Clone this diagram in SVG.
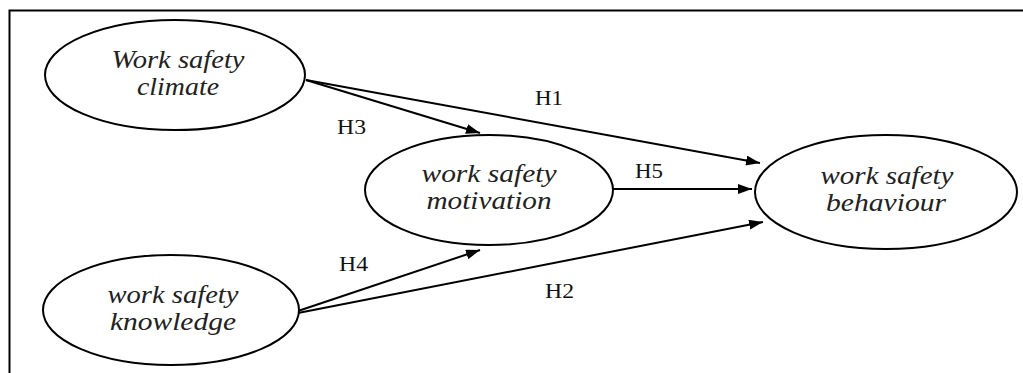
<svg xmlns="http://www.w3.org/2000/svg" width="1023" height="373" viewBox="0 0 1023 373">
<defs>
<marker id="ah" viewBox="0 0 14 10" refX="14" refY="5" markerWidth="14" markerHeight="10" markerUnits="userSpaceOnUse" orient="auto">
<path d="M0,0 L14,5 L0,10 z" fill="#000"/>
</marker>
<style>
.node ellipse{fill:#fff;stroke:#000;stroke-width:2}
.node text{font-style:italic;font-size:25px;fill:#222;text-anchor:middle}
.lbl{font-size:20px;fill:#111}
.conn line{stroke:#000;stroke-width:2;marker-end:url(#ah)}
</style>
</defs>
<rect width="1023" height="373" fill="#fff"/>
<path d="M9.5,373 V10.5 H1023" fill="none" stroke="#000" stroke-width="2"/>
<g class="conn" id="connectors">
<line x1="306" y1="80" x2="760" y2="163"/>
<line x1="306" y1="80" x2="480" y2="133"/>
<line x1="613" y1="189" x2="752" y2="189"/>
<line x1="298" y1="311" x2="480" y2="250"/>
<line x1="298" y1="313" x2="763" y2="222"/>
</g>
<g id="labels" font-family="Liberation Serif, serif">
<text class="lbl" x="535" y="105" textLength="28" lengthAdjust="spacingAndGlyphs">H1</text>
<text class="lbl" x="337" y="134" textLength="29" lengthAdjust="spacingAndGlyphs">H3</text>
<text class="lbl" x="635" y="178" textLength="28" lengthAdjust="spacingAndGlyphs">H5</text>
<text class="lbl" x="339" y="271" textLength="29" lengthAdjust="spacingAndGlyphs">H4</text>
<text class="lbl" x="545" y="298" textLength="29" lengthAdjust="spacingAndGlyphs">H2</text>
</g>
<g class="node" id="climate" font-family="Liberation Serif, serif">
<ellipse cx="175" cy="75" rx="130" ry="55"/>
<text x="178" y="68" textLength="133" lengthAdjust="spacingAndGlyphs">Work safety</text>
<text x="178" y="95" textLength="82" lengthAdjust="spacingAndGlyphs">climate</text>
</g>
<g class="node" id="knowledge" font-family="Liberation Serif, serif">
<ellipse cx="171" cy="310" rx="128" ry="55"/>
<text x="173" y="303" textLength="131" lengthAdjust="spacingAndGlyphs">work safety</text>
<text x="173" y="330" textLength="126" lengthAdjust="spacingAndGlyphs">knowledge</text>
</g>
<g class="node" id="motivation" font-family="Liberation Serif, serif">
<ellipse cx="489" cy="190" rx="124" ry="55"/>
<text x="489" y="182" textLength="135" lengthAdjust="spacingAndGlyphs">work safety</text>
<text x="489" y="209" textLength="125" lengthAdjust="spacingAndGlyphs">motivation</text>
</g>
<g class="node" id="behaviour" font-family="Liberation Serif, serif">
<ellipse cx="886" cy="192" rx="131" ry="57"/>
<text x="887" y="184" textLength="133" lengthAdjust="spacingAndGlyphs">work safety</text>
<text x="886" y="211" textLength="120" lengthAdjust="spacingAndGlyphs">behaviour</text>
</g>
</svg>
